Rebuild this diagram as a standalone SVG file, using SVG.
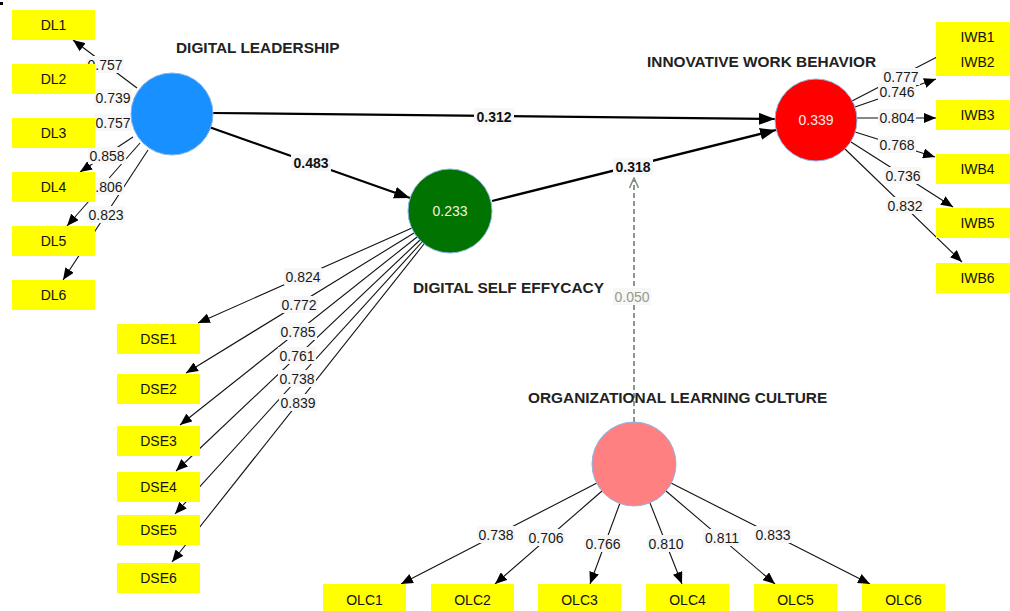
<svg xmlns="http://www.w3.org/2000/svg" width="1010" height="611" viewBox="0 0 1010 611">
  <defs>
    <marker id="arr" viewBox="0 0 12 10" refX="12" refY="5" markerWidth="12" markerHeight="10" orient="auto" markerUnits="userSpaceOnUse">
      <path d="M0,0 L12,5 L0,10 z" fill="#000"/>
    </marker>
    <marker id="arrBig" viewBox="0 0 16 12" refX="16" refY="6" markerWidth="16" markerHeight="12" orient="auto" markerUnits="userSpaceOnUse">
      <path d="M0,0 L16,6 L0,12 z" fill="#000"/>
    </marker>
    <marker id="arrOpen" viewBox="0 0 12 10" refX="11" refY="5" markerWidth="12" markerHeight="10" orient="auto" markerUnits="userSpaceOnUse">
      <path d="M1,0.5 L11,5 L1,9.5" fill="none" stroke="#7d8e7d" stroke-width="1.5"/>
    </marker>
  </defs>
  <style>
    .ind { fill: #ffff00; }
    .indt { font-family: "Liberation Sans", Arial, sans-serif; font-size: 14px; fill: #111; text-anchor: middle; }
    .title { font-family: "Liberation Sans", Arial, sans-serif; font-size: 15.4px; font-weight: bold; fill: #222; }
    .lv { stroke: #8ab4e8; stroke-width: 1; }
    .lvt { font-family: "Liberation Sans", Arial, sans-serif; font-size: 14px; fill: #fff; text-anchor: middle; }
    .load { stroke: #111; stroke-width: 1.1; fill: none; marker-end: url(#arr); }
    .path { stroke: #000; stroke-width: 2.2; fill: none; marker-end: url(#arrBig); }
    .lbg { fill: #f7f7f7; }
    .lt { font-family: "Liberation Sans", Arial, sans-serif; font-size: 14px; fill: #1a1a1a; text-anchor: middle; }
    .pt { font-family: "Liberation Sans", Arial, sans-serif; font-size: 14px; font-weight: bold; fill: #111; text-anchor: middle; }
  </style>
  <rect width="1010" height="611" fill="#fff"/>
  <rect x="0" y="2" width="3" height="3" fill="#000"/>

  <!-- connectors -->
  <g id="connectors">
    <!-- Digital Leadership loadings -->
    <line class="load" x1="137" y1="88" x2="73" y2="40"/>
    <line class="load" x1="131" y1="104" x2="95" y2="93"/>
    <line class="load" x1="131" y1="120" x2="95" y2="126"/>
    <line class="load" x1="133" y1="137" x2="80" y2="172"/>
    <line class="load" x1="140" y1="143" x2="67" y2="226"/>
    <line class="load" x1="148" y1="150" x2="63" y2="280"/>
    <!-- Digital Self Effycacy loadings -->
    <line class="load" x1="412" y1="228" x2="198" y2="323"/>
    <line class="load" x1="414" y1="233" x2="186" y2="373"/>
    <line class="load" x1="417" y1="237" x2="180" y2="425"/>
    <line class="load" x1="420" y1="240" x2="176" y2="471"/>
    <line class="load" x1="422" y1="242" x2="175" y2="514"/>
    <line class="load" x1="424" y1="244" x2="172" y2="562"/>
    <!-- Innovative Work Behavior loadings -->
    <line x1="852" y1="101" x2="937" y2="57" stroke="#111" stroke-width="1.1"/>
    <line class="load" x1="855" y1="107" x2="936" y2="79"/>
    <line class="load" x1="857" y1="118" x2="936" y2="118"/>
    <line class="load" x1="855" y1="132" x2="935" y2="157"/>
    <line class="load" x1="851" y1="142" x2="953" y2="207"/>
    <line class="load" x1="845" y1="149" x2="962" y2="262"/>
    <!-- Organizational Learning Culture loadings -->
    <line class="load" x1="597" y1="483" x2="401" y2="584"/>
    <line class="load" x1="602" y1="491" x2="495" y2="584"/>
    <line class="load" x1="620" y1="503" x2="590" y2="584"/>
    <line class="load" x1="650" y1="503" x2="682" y2="584"/>
    <line class="load" x1="666" y1="491" x2="775" y2="584"/>
    <line class="load" x1="671" y1="483" x2="870" y2="584"/>
    <!-- structural paths -->
    <line class="path" x1="212" y1="113" x2="775" y2="119"/>
    <line class="path" x1="209" y1="127" x2="410" y2="198"/>
    <line class="path" x1="492" y1="201" x2="776" y2="130"/>
    <!-- moderating effect -->
    <line x1="634" y1="422" x2="634" y2="178" stroke="#7d8e7d" stroke-width="1.8" stroke-dasharray="5,3" marker-end="url(#arrOpen)"/>

    <!-- loading labels -->
    <g>
      <rect class="lbg" x="86" y="56" width="38" height="17"/><text class="lt" x="105" y="70">0.757</text>
      <rect class="lbg" x="94" y="89" width="38" height="17"/><text class="lt" x="113" y="103">0.739</text>
      <rect class="lbg" x="94" y="114" width="38" height="17"/><text class="lt" x="113" y="128">0.757</text>
      <rect class="lbg" x="88" y="147" width="38" height="17"/><text class="lt" x="107" y="161">0.858</text>
      <rect class="lbg" x="86" y="178" width="38" height="17"/><text class="lt" x="105" y="192">0.806</text>
      <rect class="lbg" x="87" y="206" width="38" height="17"/><text class="lt" x="106" y="220">0.823</text>

      <rect class="lbg" x="284" y="268" width="38" height="17"/><text class="lt" x="303" y="282">0.824</text>
      <rect class="lbg" x="280" y="296" width="38" height="17"/><text class="lt" x="299" y="310">0.772</text>
      <rect class="lbg" x="279" y="323" width="38" height="17"/><text class="lt" x="298" y="337">0.785</text>
      <rect class="lbg" x="278" y="347" width="38" height="17"/><text class="lt" x="297" y="361">0.761</text>
      <rect class="lbg" x="278" y="370" width="38" height="17"/><text class="lt" x="297" y="384">0.738</text>
      <rect class="lbg" x="279" y="394" width="38" height="17"/><text class="lt" x="298" y="408">0.839</text>

      <rect class="lbg" x="882" y="68" width="38" height="17"/><text class="lt" x="901" y="82">0.777</text>
      <rect class="lbg" x="878" y="83" width="38" height="17"/><text class="lt" x="897" y="97">0.746</text>
      <rect class="lbg" x="878" y="109" width="38" height="17"/><text class="lt" x="897" y="123">0.804</text>
      <rect class="lbg" x="878" y="136" width="38" height="17"/><text class="lt" x="897" y="150">0.768</text>
      <rect class="lbg" x="884" y="167" width="38" height="17"/><text class="lt" x="903" y="181">0.736</text>
      <rect class="lbg" x="886" y="197" width="38" height="17"/><text class="lt" x="905" y="211">0.832</text>

      <rect class="lbg" x="477" y="526" width="38" height="17"/><text class="lt" x="496" y="540">0.738</text>
      <rect class="lbg" x="527" y="529" width="38" height="17"/><text class="lt" x="546" y="543">0.706</text>
      <rect class="lbg" x="584" y="535" width="38" height="17"/><text class="lt" x="603" y="549">0.766</text>
      <rect class="lbg" x="647" y="535" width="38" height="17"/><text class="lt" x="666" y="549">0.810</text>
      <rect class="lbg" x="703" y="529" width="38" height="17"/><text class="lt" x="722" y="543">0.811</text>
      <rect class="lbg" x="754" y="526" width="38" height="17"/><text class="lt" x="773" y="540">0.833</text>
    </g>
    <!-- path coefficient labels -->
    <g>
      <rect class="lbg" x="474" y="108" width="40" height="17"/><text class="pt" x="494" y="122">0.312</text>
      <rect class="lbg" x="291" y="154" width="40" height="17"/><text class="pt" x="311" y="168">0.483</text>
      <rect class="lbg" x="613" y="158" width="40" height="17"/><text class="pt" x="633" y="172">0.318</text>
      <rect class="lbg" x="613" y="288" width="38" height="17"/><text class="lt" x="632" y="302" style="fill:#959c88">0.050</text>
    </g>
  </g>

  <!-- Digital Leadership -->
  <g id="digital-leadership">
    <circle class="lv" cx="172" cy="114" r="41" fill="#1990ff"/>
    <text class="title" x="176" y="53">DIGITAL LEADERSHIP</text>
  </g>
  <g id="DL1"><rect class="ind" x="12" y="10" width="83" height="30"/><text class="indt" x="53.5" y="30">DL1</text></g>
  <g id="DL2"><rect class="ind" x="12" y="64" width="83" height="30"/><text class="indt" x="53.5" y="84">DL2</text></g>
  <g id="DL3"><rect class="ind" x="12" y="118" width="83" height="30"/><text class="indt" x="53.5" y="138">DL3</text></g>
  <g id="DL4"><rect class="ind" x="12" y="172" width="83" height="30"/><text class="indt" x="53.5" y="192">DL4</text></g>
  <g id="DL5"><rect class="ind" x="12" y="226" width="83" height="30"/><text class="indt" x="53.5" y="246">DL5</text></g>
  <g id="DL6"><rect class="ind" x="12" y="280" width="83" height="30"/><text class="indt" x="53.5" y="300">DL6</text></g>

  <!-- Digital Self Effycacy -->
  <g id="digital-self-effycacy">
    <circle class="lv" cx="450" cy="211" r="42" fill="#007300"/>
    <text class="lvt" x="450" y="216" style="fill:#f4f4dc">0.233</text>
    <text class="title" x="413" y="293">DIGITAL SELF EFFYCACY</text>
  </g>
  <g id="DSE1"><rect class="ind" x="117" y="324" width="83" height="30"/><text class="indt" x="158.5" y="344">DSE1</text></g>
  <g id="DSE2"><rect class="ind" x="117" y="374" width="83" height="30"/><text class="indt" x="158.5" y="394">DSE2</text></g>
  <g id="DSE3"><rect class="ind" x="117" y="426" width="83" height="30"/><text class="indt" x="158.5" y="446">DSE3</text></g>
  <g id="DSE4"><rect class="ind" x="117" y="472" width="83" height="30"/><text class="indt" x="158.5" y="492">DSE4</text></g>
  <g id="DSE5"><rect class="ind" x="117" y="515" width="83" height="30"/><text class="indt" x="158.5" y="535">DSE5</text></g>
  <g id="DSE6"><rect class="ind" x="117" y="563" width="83" height="30"/><text class="indt" x="158.5" y="583">DSE6</text></g>

  <!-- Innovative Work Behavior -->
  <g id="innovative-work-behavior">
    <circle class="lv" cx="816" cy="120" r="41" fill="#ff0000"/>
    <text class="lvt" x="816" y="125" style="fill:#ffe8e8">0.339</text>
    <text class="title" x="647" y="67">INNOVATIVE WORK BEHAVIOR</text>
  </g>
  <g id="IWB1"><rect class="ind" x="936" y="22" width="83" height="30"/><text class="indt" x="977.5" y="42">IWB1</text></g>
  <g id="IWB2"><rect class="ind" x="936" y="46" width="83" height="30"/><text class="indt" x="977.5" y="67">IWB2</text></g>
  <g id="IWB3"><rect class="ind" x="936" y="100" width="83" height="30"/><text class="indt" x="977.5" y="120">IWB3</text></g>
  <g id="IWB4"><rect class="ind" x="936" y="154" width="83" height="30"/><text class="indt" x="977.5" y="174">IWB4</text></g>
  <g id="IWB5"><rect class="ind" x="936" y="208" width="83" height="30"/><text class="indt" x="977.5" y="228">IWB5</text></g>
  <g id="IWB6"><rect class="ind" x="936" y="263" width="83" height="30"/><text class="indt" x="977.5" y="283">IWB6</text></g>

  <!-- Organizational Learning Culture -->
  <g id="organizational-learning-culture">
    <circle class="lv" cx="634" cy="464" r="42" fill="#ff8080"/>
    <text class="title" x="528" y="403">ORGANIZATIONAL LEARNING CULTURE</text>
  </g>
  <g id="OLC1"><rect class="ind" x="323" y="584" width="83" height="30"/><text class="indt" x="364.5" y="605">OLC1</text></g>
  <g id="OLC2"><rect class="ind" x="431" y="584" width="83" height="30"/><text class="indt" x="472.5" y="605">OLC2</text></g>
  <g id="OLC3"><rect class="ind" x="538" y="584" width="83" height="30"/><text class="indt" x="579.5" y="605">OLC3</text></g>
  <g id="OLC4"><rect class="ind" x="646" y="584" width="83" height="30"/><text class="indt" x="687.5" y="605">OLC4</text></g>
  <g id="OLC5"><rect class="ind" x="754" y="584" width="83" height="30"/><text class="indt" x="795.5" y="605">OLC5</text></g>
  <g id="OLC6"><rect class="ind" x="862" y="584" width="83" height="30"/><text class="indt" x="903.5" y="605">OLC6</text></g>
</svg>
